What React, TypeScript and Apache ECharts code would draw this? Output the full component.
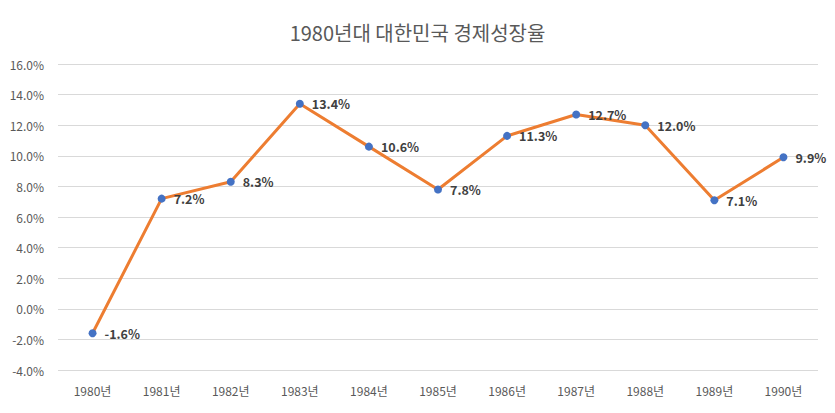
import React, { useEffect, useRef } from "react";
import * as echarts from "echarts";

const titleText = "1980년대 대한민국 경제성장율";
const categories = ["1980년", "1981년", "1982년", "1983년", "1984년", "1985년", "1986년", "1987년", "1988년", "1989년", "1990년"];
const growthRates = [-1.6, 7.2, 8.3, 13.4, 10.6, 7.8, 11.3, 12.7, 12.0, 7.1, 9.9];

const FONT = "'Noto Sans CJK KR', 'Noto Sans', sans-serif";

export default function App() {
  const ref = useRef<HTMLDivElement>(null);
  useEffect(() => {
    if (!ref.current) return;
    const chart = echarts.init(ref.current, undefined, { renderer: "svg" });
    chart.setOption({
      animation: false,
      backgroundColor: "#ffffff",
      title: {
        text: titleText,
        left: "center",
        top: 17,
        textStyle: { color: "#595959", fontSize: 20, fontWeight: "normal", fontFamily: FONT },
      },
      grid: { left: 58, right: 17, top: 64, bottom: 43, containLabel: false },
      xAxis: {
        type: "category",
        data: categories,
        boundaryGap: true,
        axisLine: { show: false },
        axisTick: { show: false },
        axisLabel: { color: "#595959", fontSize: 12, margin: 14, fontFamily: FONT },
      },
      yAxis: {
        type: "value",
        min: -4,
        max: 16,
        interval: 2,
        axisLine: { show: false },
        axisTick: { show: false },
        splitLine: { lineStyle: { color: "#d9d9d9", width: 1 } },
        axisLabel: {
          color: "#595959",
          fontSize: 12,
          margin: 14,
          fontFamily: FONT,
          formatter: (v: number) => v.toFixed(1) + "%",
        },
      },
      series: [
        {
          type: "line",
          data: growthRates,
          symbol: "circle",
          symbolSize: 8,
          lineStyle: { color: "#ED7D31", width: 3 },
          itemStyle: { color: "#4472C4" },
          label: {
            show: true,
            position: "right",
            distance: 8,
            color: "#404040",
            fontSize: 12.5,
            fontWeight: "bold",
            fontFamily: FONT,
            formatter: (p: any) => Number(p.value).toFixed(1) + "%",
          },
        },
      ],
    });
    return () => chart.dispose();
  }, []);
  return <div ref={ref} style={{ width: 835, height: 413, margin: -8 }} />;
}
